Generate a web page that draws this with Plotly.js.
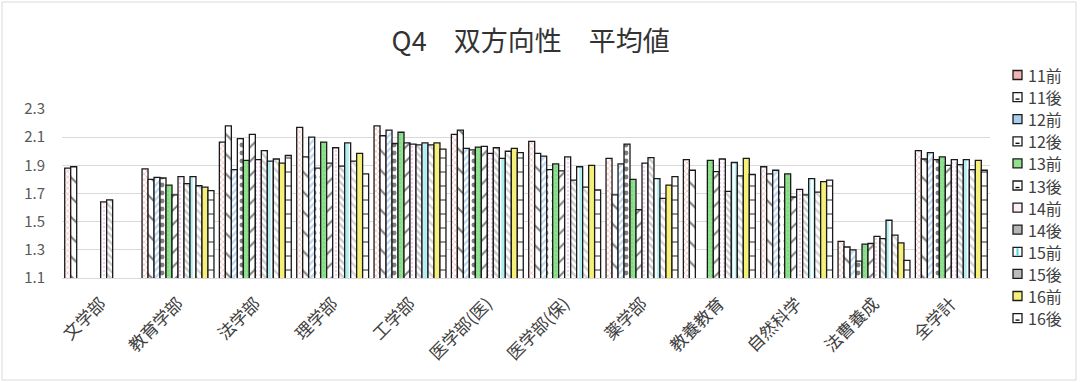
<!DOCTYPE html>
<html><head><meta charset="utf-8">
<script src="https://cdn.plot.ly/plotly-3.0.1.min.js"></script>
<style>html,body{margin:0;padding:0;background:#fff}#chart{width:1080px;height:382px}</style>
</head><body><div id="chart"></div>
<script>
const categories = ["文学部","教育学部","法学部","理学部","工学部","医学部(医)","医学部(保)","薬学部","教養教育","自然科学","法曹養成","全学計"];
const seriesNames = ["11前","11後","12前","12後","13前","13後","14前","14後","15前","15後","16前","16後"];
const v11pre  = [1.88,1.875,2.065,2.17,2.18,2.12,2.07,1.95,1.94,1.89,1.36,2.005];
const v11post = [1.89,1.80,2.18,1.96,2.11,2.15,1.985,1.69,1.865,1.84,1.32,1.945];
const v12pre  = [null,1.815,1.87,2.10,2.15,2.02,1.965,1.91,null,1.865,1.30,1.99];
const v12post = [null,1.81,2.09,1.88,2.055,2.01,1.87,2.05,null,1.745,1.22,1.94];
const v13pre  = [null,1.76,1.935,2.065,2.135,2.03,1.91,1.80,1.935,1.84,1.34,1.96];
const v13post = [null,1.69,2.12,1.915,2.06,2.035,1.86,1.585,1.855,1.675,1.345,1.90];
const v14pre  = [1.64,1.82,1.94,2.025,2.05,1.985,1.96,1.915,1.945,1.73,1.395,1.94];
const v14post = [1.655,1.77,2.005,1.895,2.045,2.025,1.795,1.955,1.715,1.69,1.38,1.905];
const v15pre  = [null,1.82,1.93,2.06,2.06,1.95,1.89,1.805,1.92,1.805,1.51,1.94];
const v15post = [null,1.755,1.945,1.93,2.045,2.00,1.745,1.665,1.825,1.71,1.405,1.87];
const v16pre  = [null,1.745,1.915,1.985,2.06,2.02,1.90,1.76,1.95,1.785,1.35,1.935];
const v16post = [null,1.72,1.97,1.84,2.015,1.99,1.725,1.82,1.835,1.795,1.225,1.865];
const yTicks = [1.1,1.3,1.5,1.7,1.9,2.1,2.3];

const values = [v11pre,v11post,v12pre,v12post,v13pre,v13post,v14pre,v14post,v15pre,v15post,v16pre,v16post];
const styles = [
  {bg:"#ffffff", fg:"#f08a8a", shape:"x", size:4, sol:0.4, sw:"#f4b4b4"},
  {bg:"#ffffff", fg:"#000000", shape:"\\", size:14, sol:0.15, sw:"#ffffff"},
  {bg:"#ffffff", fg:"#7fb2e6", shape:"/", size:5, sol:0.5, sw:"#a9cdf0"},
  {bg:"#ffffff", fg:"#000000", shape:".", size:8, sol:0.3, sw:"#ffffff"},
  {bg:"#8fe08f", fg:"#6cc96c", shape:".", size:4, sol:0.2, sw:"#8fe08f"},
  {bg:"#ffffff", fg:"#000000", shape:"/", size:10, sol:0.2, sw:"#ffffff"},
  {bg:"#ffffff", fg:"#e8a0d8", shape:".", size:4, sol:0.3, sw:"#fbeef8"},
  {bg:"#ffffff", fg:"#9a9a9a", shape:"\\", size:5, sol:0.5, sw:"#b4b4b4"},
  {bg:"#ffffff", fg:"#5fe0ea", shape:"|", size:6, sol:0.6, sw:"#ffffff"},
  {bg:"#ffffff", fg:"#a8a8a8", shape:"\\", size:6, sol:0.4, sw:"#bdbdbd"},
  {bg:"#f6f07a", fg:"#f6f07a", shape:"", size:6, sol:0.3, sw:"#f6f07a"},
  {bg:"#ffffff", fg:"#000000", shape:"-", size:14, sol:0.12, sw:"#ffffff"}
];

const traces = seriesNames.map((n,i)=>({
  type:"bar", name:n, x:categories, y:values[i],
  marker:{color:styles[i].bg, line:{color:"#1a1a1a", width:1.3},
    pattern:{shape:styles[i].shape, fgcolor:styles[i].fg, bgcolor:styles[i].bg, size:styles[i].size, solidity:styles[i].sol, fillmode:"overlay"}},
  hoverinfo:"x+y+name"
}));

const M = {l:62, r:90, t:109, b:104};
const W = 1080, H = 382;
const pw = W - M.l - M.r, ph = H - M.t - M.b;
const px2x = p => (p - M.l) / pw;
const py2y = p => (H - M.b - p) / ph;

const font = "'Noto Sans CJK JP', 'Noto Sans', sans-serif";
const shapes = [{type:"rect", xref:"paper", yref:"paper", x0:px2x(2), x1:px2x(W-4), y0:py2y(H-2), y1:py2y(2), line:{color:"#d9d9d9", width:1}, fillcolor:"rgba(0,0,0,0)", layer:"below"}];
const annotations = [];
seriesNames.forEach((n,i)=>{
  const cy = 75 + i*22.1;
  shapes.push({type:"rect", xref:"paper", yref:"paper", x0:px2x(1013), x1:px2x(1022), y0:py2y(cy+4.5), y1:py2y(cy-4.5), line:{color:"#1a1a1a", width:1.3}, fillcolor:styles[i].sw});
  if (i===8) shapes.push({type:"line", xref:"paper", yref:"paper", x0:px2x(1017.5), x1:px2x(1017.5), y0:py2y(cy+3.5), y1:py2y(cy-3.5), line:{color:"#3fd8e4", width:2}});
  if (i===1||i===3||i===5||i===11) shapes.push({type:"line", xref:"paper", yref:"paper", x0:px2x(1015.5), x1:px2x(1019.5), y0:py2y(cy+2), y1:py2y(cy+2), line:{color:"#000", width:1.3}});
  annotations.push({xref:"paper", yref:"paper", x:px2x(1026), y:py2y(cy), xanchor:"left", yanchor:"middle", text:n, showarrow:false, font:{size:16, color:"#404040", family:font}});
});

const layout = {
  width:W, height:H,
  margin:M,
  paper_bgcolor:"#ffffff", plot_bgcolor:"#ffffff",
  font:{family:font, color:"#404040"},
  title:{text:"Q4　双方向性　平均値", x:0.505, xref:"paper", y:0.89, yref:"container", yanchor:"middle", font:{size:27, color:"#333333", family:font}},
  barmode:"group", bargap:0.07, bargroupgap:0,
  xaxis:{type:"category", tickangle:-45, tickfont:{size:17, color:"#404040", family:font}, showgrid:false, showline:true, linecolor:"#d9d9d9", linewidth:1, ticks:"", ticklabelstandoff:8, automargin:false},
  yaxis:{range:[1.1,2.3], tickvals:yTicks, ticktext:yTicks.map(v=>v.toFixed(1)), tickfont:{size:15, color:"#595959", family:font}, gridcolor:"#d9d9d9", gridwidth:1, zeroline:false, showline:false, ticks:"", ticklabelstandoff:16, automargin:false},
  showlegend:false,
  shapes:shapes, annotations:annotations
};
Plotly.newPlot("chart", traces, layout, {displayModeBar:false, staticPlot:true});
</script></body></html>
